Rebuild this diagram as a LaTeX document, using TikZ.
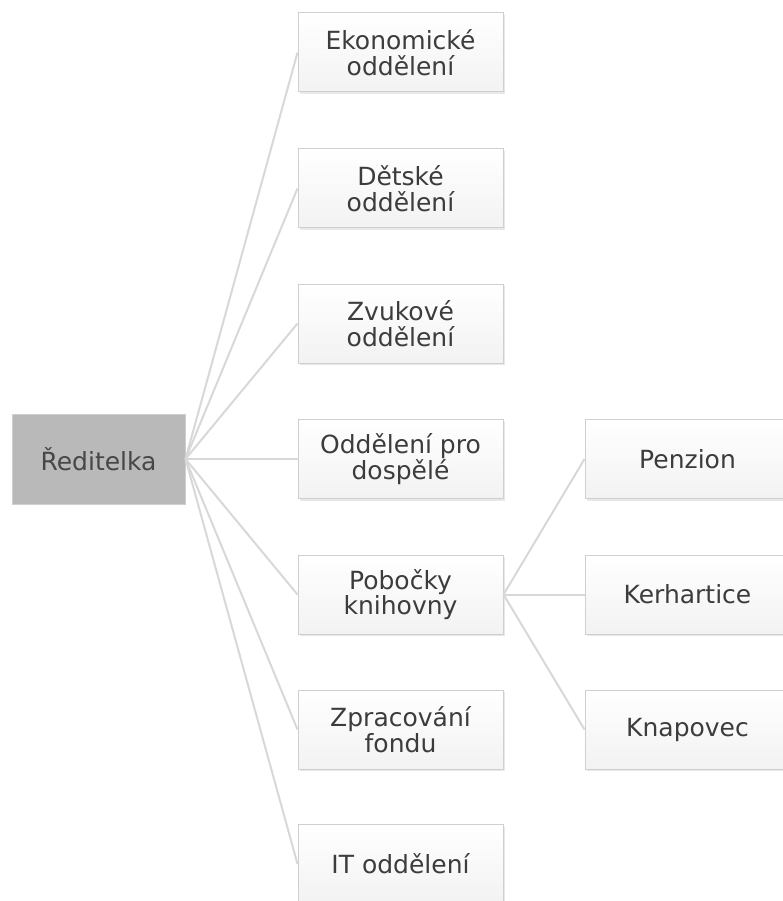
\documentclass[tikz,border=0pt]{standalone}
\usepackage{fontspec}
\setmainfont{DejaVu Sans}
\usetikzlibrary{shadows}

\definecolor{boxline}{HTML}{CFCFCF}
\definecolor{edgeline}{HTML}{D8D8D8}
\definecolor{rootfill}{HTML}{B9B9B9}
\definecolor{boxtext}{HTML}{3C3C3C}

\tikzset{
  unit/.style={draw=boxline,line width=1pt,top color=white,bottom color=black!5,
    minimum width=205pt,minimum height=79pt,inner sep=0pt,align=center,
    text=boxtext,font=\fontsize{25}{25.5}\selectfont,
    drop shadow={opacity=0.18,shadow xshift=1.5pt,shadow yshift=-2pt}},
  director/.style={draw=boxline,line width=1pt,fill=rootfill,
    minimum width=173pt,minimum height=90pt,inner sep=0pt,
    text=black!72,font=\fontsize{25}{25.5}\selectfont},
  link/.style={draw=edgeline,line width=2pt}
}

\begin{document}
\begin{tikzpicture}[x=1pt,y=-1pt]
		\useasboundingbox (0,0) rectangle (782,901);
		% Define boxes
		\node[director] (reditelka) at (98.5,459) {Ředitelka};
		\node[unit] (ekonom) at (400.5,52.5) {Ekonomické\\oddělení};
		\node[unit] (detske) at (400.5,188.5) {Dětské\\oddělení};
		\node[unit] (zvukove) at (400.5,323.5) {Zvukové\\oddělení};
		\node[unit] (dospele) at (400.5,459) {Oddělení pro\\dospělé};
		\node[unit] (pobocky) at (400.5,594.5) {Pobočky\\knihovny};
		\node[unit] (fond) at (400.5,729.5) {Zpracování\\fondu};
		\node[unit] (it) at (400.5,864) {IT oddělení};
		\node[unit] (penzion) at (687.5,459) {Penzion};
		\node[unit] (kerhartice) at (687.5,594.5) {Kerhartice};
		\node[unit] (knapovec) at (687.5,729.5) {Knapovec};
		% Define links
		\foreach \dept in {ekonom,detske,zvukove,dospele,pobocky,fond,it}
			\draw[link] (reditelka.east) -- (\dept.west);
		\foreach \branch in {penzion,kerhartice,knapovec}
			\draw[link] (pobocky.east) -- (\branch.west);
	\end{tikzpicture}
\end{document}
